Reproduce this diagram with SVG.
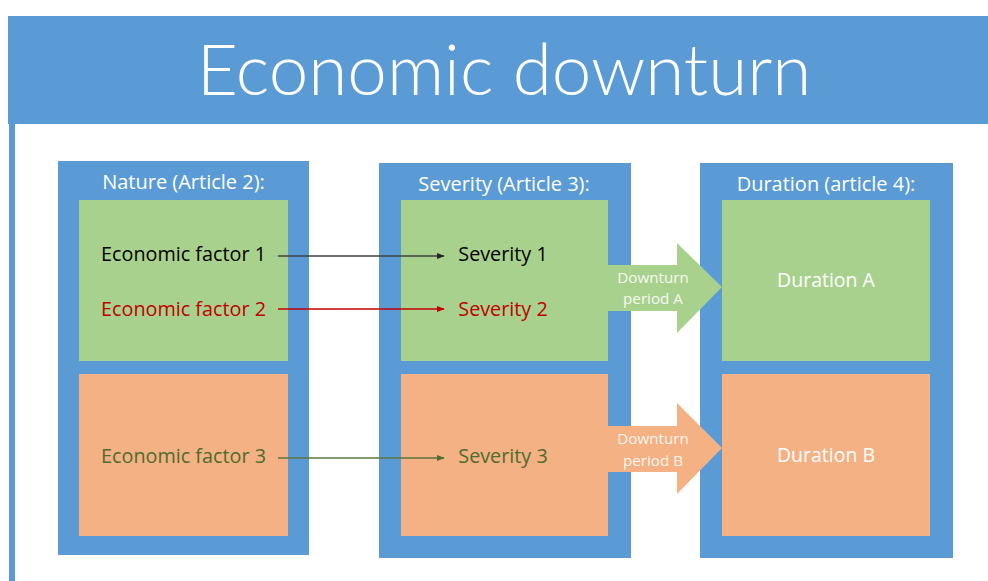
<svg xmlns="http://www.w3.org/2000/svg" width="988" height="581" viewBox="0 0 988 581">
  <style>
    .blue { fill: #5b9bd5; }
    .green { fill: #a9d18e; }
    .orange { fill: #f4b183; }
    text { font-family: "Open Sans", Lato, "Liberation Sans", sans-serif; text-anchor: middle; }
    .head { fill: #ffffff; font-size: 20px; }
    .item { font-size: 19.8px; }
    .dim { fill: #ffffff; font-size: 19.5px; }
    .lbl { fill: #ffffff; font-size: 15.2px; fill-opacity: 0.9; }
    .conn { fill: none; stroke-width: 1.6; }
  </style>
  <defs>
    <marker id="ah-k" viewBox="0 0 10 10" refX="9" refY="5" markerWidth="5" markerHeight="5" orient="auto"><path d="M0,1 L10,5 L0,9 z" fill="#262626"/></marker>
    <marker id="ah-r" viewBox="0 0 10 10" refX="9" refY="5" markerWidth="5" markerHeight="5" orient="auto"><path d="M0,1 L10,5 L0,9 z" fill="#c00000"/></marker>
    <marker id="ah-g" viewBox="0 0 10 10" refX="9" refY="5" markerWidth="5" markerHeight="5" orient="auto"><path d="M0,1 L10,5 L0,9 z" fill="#4f6b2e"/></marker>
  </defs>
  <rect width="988" height="581" fill="#ffffff"/>

  <g id="frame">
    <rect class="blue" x="8" y="16" width="980" height="108"/>
    <rect class="blue" x="9" y="124" width="6" height="457"/>
    <text x="504" y="95" fill="#ffffff" style="font-family:Lato,'Open Sans',sans-serif;font-size:71px;font-weight:300">Economic downturn</text>
  </g>

  <g id="nature">
    <rect class="blue" x="58" y="161" width="251" height="394"/>
    <text class="head" x="183.5" y="189">Nature (Article 2):</text>
    <rect class="green" x="79" y="200" width="209" height="161"/>
    <rect class="orange" x="79" y="374" width="209" height="162"/>
    <text class="item" x="183.5" y="261" fill="#000000">Economic factor 1</text>
    <text class="item" x="183.5" y="316" fill="#c00000">Economic factor 2</text>
    <text class="item" x="183.5" y="463" fill="#4f6b2e">Economic factor 3</text>
  </g>

  <g id="severity">
    <rect class="blue" x="379" y="163" width="252" height="395"/>
    <text class="head" x="504" y="191">Severity (Article 3):</text>
    <rect class="green" x="401" y="200" width="207" height="161"/>
    <rect class="orange" x="401" y="374" width="207" height="162"/>
    <text class="item" x="503" y="261" fill="#000000">Severity 1</text>
    <text class="item" x="503" y="316" fill="#c00000">Severity 2</text>
    <text class="item" x="503" y="463" fill="#4f6b2e">Severity 3</text>
  </g>

  <g id="duration">
    <rect class="blue" x="700" y="163" width="253" height="395"/>
    <text class="head" x="826" y="191">Duration (article 4):</text>
    <rect class="green" x="722" y="200" width="208" height="161"/>
    <rect class="orange" x="722" y="374" width="208" height="162"/>
    <text class="dim" x="826" y="287">Duration A</text>
    <text class="dim" x="826" y="462">Duration B</text>
  </g>

  <g id="period-a">
    <polygon class="green" points="608,265 677,265 677,243 722,287 677,333 677,311 608,311"/>
    <text class="lbl" x="653" y="283">Downturn</text>
    <text class="lbl" x="653" y="304">period A</text>
  </g>

  <g id="period-b">
    <polygon class="orange" points="608,426 677,426 677,403 722,448 677,494 677,472 608,472"/>
    <text class="lbl" x="653" y="444">Downturn</text>
    <text class="lbl" x="653" y="466">period B</text>
  </g>

  <g id="connectors">
    <line class="conn" x1="278" y1="256" x2="444" y2="256" stroke="#404040" stroke-width="2" marker-end="url(#ah-k)"/>
    <line class="conn" x1="278" y1="309" x2="444" y2="309" stroke="#c00000" marker-end="url(#ah-r)"/>
    <line class="conn" x1="278" y1="458" x2="444" y2="458" stroke="#5a7540" stroke-width="2" marker-end="url(#ah-g)"/>
  </g>
</svg>
